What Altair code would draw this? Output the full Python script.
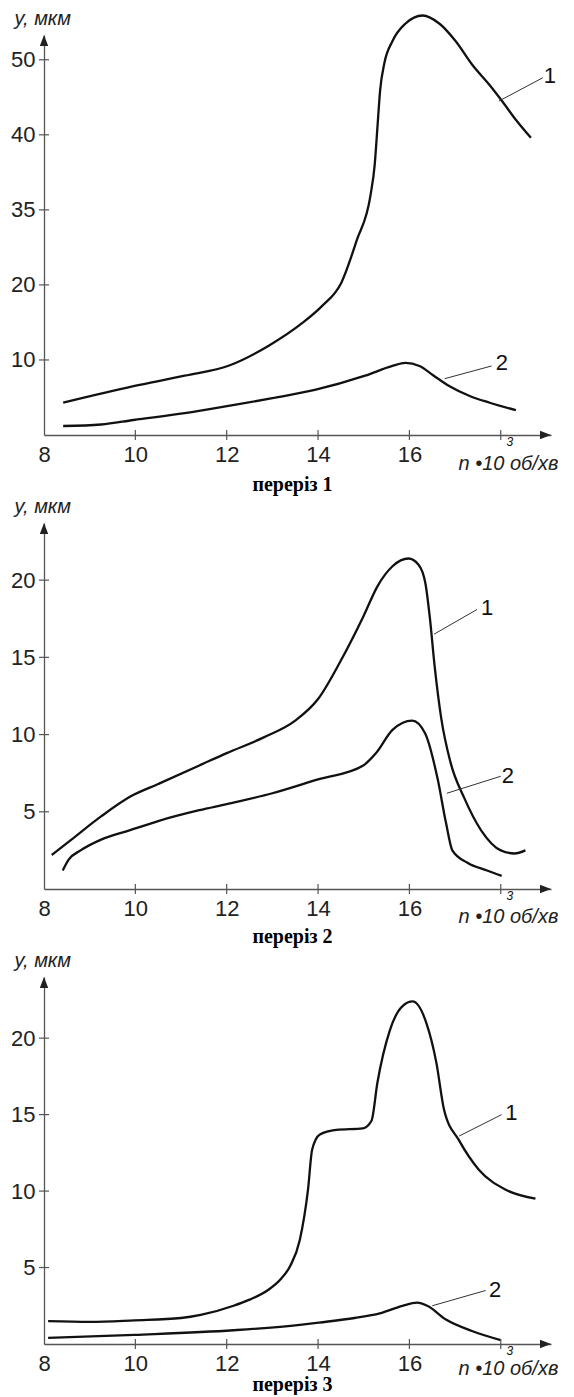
import altair as alt
import pandas as pd

# ---------------- data ----------------
x_tick_values = [8, 10, 12, 14, 16, 18]
x_tick_labels = ["8", "10", "12", "14", "16", ""]
x_tick_marks = [10, 12, 14, 16, 18]
x_max = 19.1
x_title = "n •10 об/хв"
x_sup = "3"
y_title = "y, мкм"
curve_names = ["1", "2"]

# panel 1 (переріз 1)
p1_title = "переріз 1"
p1_y_max = 53.3
p1_y_tick_values = [10, 20, 30, 40, 50]
p1_y_tick_labels = ["10", "20", "35", "40", "50"]
p1_c1_x = [8.42, 9.96, 11.08, 12.07, 12.92, 13.65, 14.09, 14.51, 14.85, 15.15, 15.24,
           15.3, 15.36, 15.45, 15.63, 15.91, 16.29, 16.66, 17.01, 17.38, 17.76, 18.04,
           18.33, 18.66]
p1_c1_y = [4.3, 6.5, 7.9, 9.3, 11.9, 14.9, 17.2, 20.3, 26.0, 32.0, 36.0,
           41.0, 46.0, 49.5, 52.5, 54.8, 55.9, 54.8, 52.5, 49.3, 46.6, 44.4,
           42.0, 39.6]
p1_c2_x = [8.42, 9.25, 9.96, 11.08, 12.07, 13.0, 13.93, 15.03, 15.63, 15.91, 16.22, 16.51,
           16.88, 17.32, 17.76, 18.33]
p1_c2_y = [1.2, 1.4, 2.0, 2.9, 3.9, 4.9, 6.0, 7.9, 9.2, 9.6, 9.2, 8.0,
           6.5, 5.2, 4.3, 3.3]
p1_lead_x = [17.96, 16.77]
p1_lead_y = [44.5, 7.5]
p1_lead_x2 = [18.92, 17.8]
p1_lead_y2 = [47.6, 9.2]
p1_lab_x = [18.94, 17.89]
p1_lab_y = [47.9, 9.6]

# panel 2 (переріз 2)
p2_title = "переріз 2"
p2_y_max = 23.7
p2_y_tick_values = [5, 10, 15, 20]
p2_y_tick_labels = ["5", "10", "15", "20"]
p2_c1_x = [8.17, 8.6, 9.25, 9.9, 10.5, 11.4, 12.0, 12.8, 13.5, 14.0, 14.5, 15.0, 15.3,
           15.63, 15.98, 16.2, 16.35, 16.45, 16.55, 16.7, 16.9, 17.2, 17.57, 18.0,
           18.3, 18.54]
p2_c1_y = [2.2, 3.2, 4.7, 6.0, 6.8, 8.0, 8.8, 9.8, 10.9, 12.3, 14.8, 17.7, 19.6,
           20.9, 21.4, 21.0, 19.8, 17.5, 14.5, 11.0, 8.2, 5.9, 3.8, 2.5,
           2.3, 2.5]
p2_c2_x = [8.41, 8.54, 8.8, 9.25, 9.87, 10.5, 11.4, 12.0, 13.0, 14.0, 14.99, 15.27,
           15.63, 16.06, 16.34, 16.62, 16.8, 16.94, 17.27, 17.7, 18.02]
p2_c2_y = [1.2, 1.9, 2.5, 3.2, 3.8, 4.4, 5.1, 5.5, 6.2, 7.1, 8.0, 8.8,
           10.3, 10.9, 10.1, 7.1, 4.3, 2.5, 1.7, 1.2, 0.85]
p2_lead_x = [16.54, 16.82]
p2_lead_y = [16.5, 6.2]
p2_lead_x2 = [17.48, 18.0]
p2_lead_y2 = [18.1, 7.3]
p2_lab_x = [17.57, 18.02]
p2_lab_y = [18.2, 7.3]

# panel 3 (переріз 3)
p3_title = "переріз 3"
p3_y_max = 24.0
p3_y_tick_values = [5, 10, 15, 20]
p3_y_tick_labels = ["5", "10", "15", "20"]
p3_c1_x = [8.09, 9.0, 9.98, 11.0, 11.43, 12.15, 12.5, 12.89, 13.2, 13.39, 13.6, 13.78, 13.87,
           14.04, 14.4, 14.98, 15.17, 15.3, 15.57, 15.85, 16.07, 16.37, 16.59, 16.76,
           17.09, 17.52, 18.1, 18.76]
p3_c1_y = [1.5, 1.45, 1.55, 1.7, 1.9, 2.5, 2.9, 3.5, 4.3, 5.1, 6.8, 10.1, 12.7,
           13.7, 14.0, 14.1, 14.6, 17.1, 20.5, 22.1, 22.4, 21.0, 18.4, 15.3,
           13.3, 11.4, 10.1, 9.5]
p3_c2_x = [8.09, 9.98, 12.15, 13.6, 14.02, 14.8, 15.35, 15.85, 16.17, 16.39, 16.8, 17.37, 18.0]
p3_c2_y = [0.4, 0.6, 0.9, 1.25, 1.4, 1.7, 2.0, 2.5, 2.7, 2.5, 1.6, 0.85, 0.25]
p3_lead_x = [17.09, 16.5]
p3_lead_y = [13.6, 2.5]
p3_lead_x2 = [18.02, 17.67]
p3_lead_y2 = [15.0, 3.5]
p3_lab_x = [18.1, 17.74]
p3_lab_y = [15.1, 3.5]

SANS = "Liberation Sans"
SERIF = "Liberation Serif"
INK = "#111111"
AXIS = "#555555"
TICK_HALF = 5


def label_expr(values, labels):
    parts = []
    for v, l in zip(values, labels):
        parts.append(f"datum.value == {v} ? '{l}' : ")
    return "".join(parts) + "datum.label"


def panel(c1x, c1y, c2x, c2y, ymax, ytv, ytl, height, lead, labs, title, xt_y, t_off):
    xs = alt.Scale(domain=[8, x_max], nice=False, zero=False)
    ys = alt.Scale(domain=[0, ymax], nice=False, zero=False)

    df_lines = pd.DataFrame({
        "x": c1x + c2x,
        "y": c1y + c2y,
        "curve": [curve_names[0]] * len(c1x) + [curve_names[1]] * len(c2x),
    })
    x_axis = alt.Axis(
        values=x_tick_values,
        labelExpr=label_expr(x_tick_values, x_tick_labels),
        labelFlush=False,
        ticks=False,
        labelPadding=9,
        title=x_title,
        titleX=414, titleY=xt_y, titleAlign="left", titleBaseline="alphabetic",
    )
    y_axis = alt.Axis(
        values=ytv,
        labelExpr=label_expr(ytv, ytl),
        ticks=False,
        labelPadding=9,
        title=y_title,
        titleAngle=0, titleX=-30, titleY=-11, titleAlign="left", titleBaseline="alphabetic",
    )
    lines = alt.Chart(df_lines).mark_line(
        color=INK, strokeWidth=2.3, interpolate="monotone"
    ).encode(
        x=alt.X("x:Q", scale=xs, axis=x_axis),
        y=alt.Y("y:Q", scale=ys, axis=y_axis),
        detail="curve:N",
    )

    # crossing tick marks
    df_yt = pd.DataFrame({"y": ytv})
    yticks = alt.Chart(df_yt).mark_rule(color=AXIS, strokeWidth=1.2).encode(
        y=alt.Y("y:Q", scale=ys),
        x=alt.value(-TICK_HALF), x2=alt.value(TICK_HALF),
    )
    df_xt = pd.DataFrame({"x": x_tick_marks})
    xticks = alt.Chart(df_xt).mark_rule(color=AXIS, strokeWidth=1.2).encode(
        x=alt.X("x:Q", scale=xs),
        y=alt.value(height - TICK_HALF), y2=alt.value(height + TICK_HALF),
    )

    df_lead = pd.DataFrame({"x": lead[0], "y": lead[1], "x2": lead[2], "y2": lead[3]})
    leaders = alt.Chart(df_lead).mark_rule(color="#333333", strokeWidth=1).encode(
        x=alt.X("x:Q", scale=xs),
        y=alt.Y("y:Q", scale=ys),
        x2="x2:Q", y2="y2:Q",
    )

    df_lab = pd.DataFrame({"x": labs[0], "y": labs[1], "t": curve_names})
    labels = alt.Chart(df_lab).mark_text(
        font=SANS, fontSize=22, align="left", baseline="middle", color=INK
    ).encode(
        x=alt.X("x:Q", scale=xs),
        y=alt.Y("y:Q", scale=ys),
        text="t:N",
    )

    df_arrow_y = pd.DataFrame({"x": [8], "y": [ymax]})
    arrow_y = alt.Chart(df_arrow_y).mark_point(
        shape="M0,0L-0.42,1.1L0.42,1.1Z", filled=True, size=400, color="#222222", opacity=1
    ).encode(
        x=alt.X("x:Q", scale=xs),
        y=alt.Y("y:Q", scale=ys),
    )
    df_arrow_x = pd.DataFrame({"x": [x_max], "y": [0]})
    arrow_x = alt.Chart(df_arrow_x).mark_point(
        shape="M0,0L-1.1,-0.42L-1.1,0.42Z", filled=True, size=400, color="#222222", opacity=1
    ).encode(
        x=alt.X("x:Q", scale=xs),
        y=alt.Y("y:Q", scale=ys),
    )

    df_sup = pd.DataFrame({"x": [18.2], "y": [0], "t": [x_sup]})
    sup = alt.Chart(df_sup).mark_text(
        font=SANS, fontSize=12, fontStyle="italic", align="center", baseline="middle",
        dy=7, color=INK
    ).encode(
        x=alt.X("x:Q", scale=xs),
        y=alt.Y("y:Q", scale=ys),
        text="t:N",
    )

    return alt.layer(lines, yticks, xticks, leaders, labels, arrow_y, arrow_x, sup).properties(
        width=507, height=height,
        title=alt.TitleParams(
            title, orient="bottom", anchor="middle", font=SERIF, fontSize=20,
            fontWeight="bold", color="#000000", offset=t_off, dx=-5,
        ),
    )


p1 = panel(p1_c1_x, p1_c1_y, p1_c2_x, p1_c2_y, p1_y_max, p1_y_tick_values, p1_y_tick_labels,
           400, (p1_lead_x, p1_lead_y, p1_lead_x2, p1_lead_y2), (p1_lab_x, p1_lab_y), p1_title,
           34, 2)
p2 = panel(p2_c1_x, p2_c1_y, p2_c2_x, p2_c2_y, p2_y_max, p2_y_tick_values, p2_y_tick_labels,
           366, (p2_lead_x, p2_lead_y, p2_lead_x2, p2_lead_y2), (p2_lab_x, p2_lab_y), p2_title,
           33, 1)
p3 = panel(p3_c1_x, p3_c1_y, p3_c2_x, p3_c2_y, p3_y_max, p3_y_tick_values, p3_y_tick_labels,
           367, (p3_lead_x, p3_lead_y, p3_lead_x2, p3_lead_y2), (p3_lab_x, p3_lab_y), p3_title,
           30, -3)

chart = alt.vconcat(p1, p2, p3, spacing=88, bounds="flush").properties(
    padding={"left": 2, "top": 0, "right": 0, "bottom": 0},
    background="white",
).configure_view(stroke=None).configure_axis(
    grid=False,
    domainColor=AXIS, domainWidth=1.3,
    labelFont=SANS, labelFontSize=22, labelColor="#222222",
    titleFont=SANS, titleFontSize=20, titleFontStyle="italic", titleFontWeight="normal",
    titleColor="#222222",
)

chart.save("out.html", embed_options={"renderer": "svg", "actions": False})
